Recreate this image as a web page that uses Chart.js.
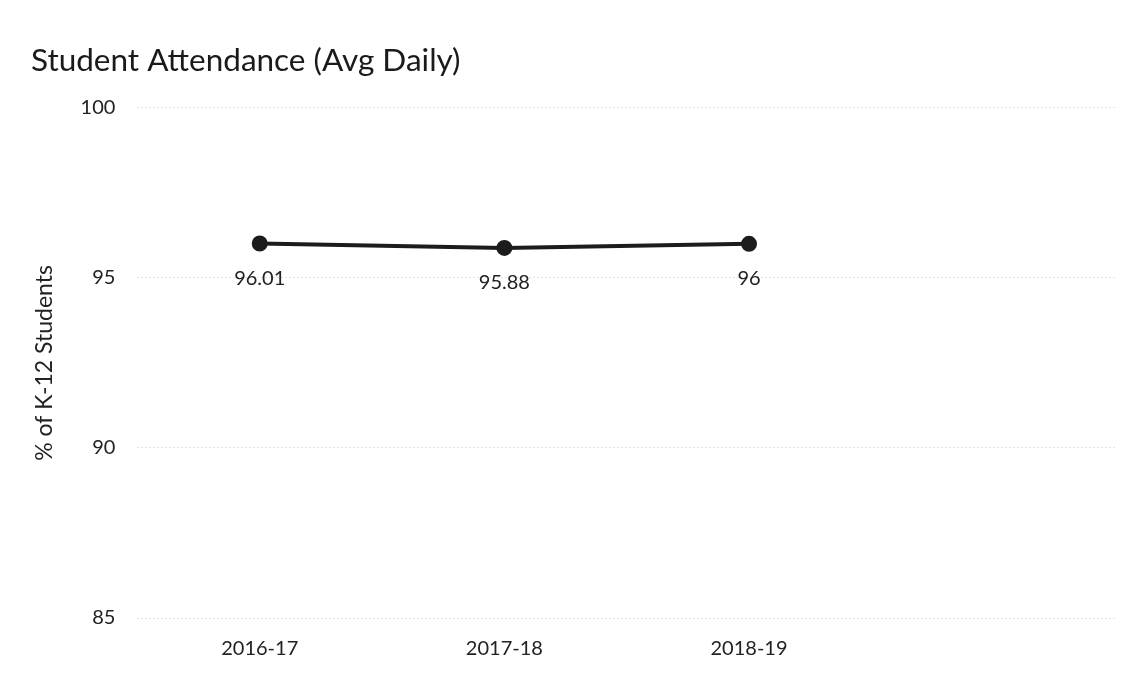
<!DOCTYPE html>
<html>
<head>
<meta charset="utf-8">
<script src="https://cdn.jsdelivr.net/npm/chart.js@4/dist/chart.umd.min.js"></script>
<style>
  html, body { margin: 0; padding: 0; background: #fff; }
  #wrap { width: 1126px; height: 675px; position: relative; }
</style>
</head>
<body>
<div id="wrap"><canvas id="grafica"></canvas></div>
<script>
const years = ["2016-17", "2017-18", "2018-19", ""];
const attendance = [96.01, 95.88, 96, null];
const yTicks = [85, 90, 95, 100];

const fontFam = "Lato, 'Open Sans', sans-serif";

// labels under each point
const etiquetas = {
  id: "etiquetas",
  afterDatasetsDraw(chart) {
    const ctx = chart.ctx;
    const meta = chart.getDatasetMeta(0);
    ctx.save();
    ctx.font = "20px " + fontFam;
    ctx.fillStyle = "#222";
    ctx.textAlign = "center";
    ctx.textBaseline = "middle";
    meta.data.forEach((pt, i) => {
      const v = attendance[i];
      if (v == null) return;
      ctx.fillText(String(v), pt.x, pt.y + 35);
    });
    ctx.restore();
  }
};

new Chart(document.getElementById("grafica"), {
  type: "line",
  data: {
    labels: years,
    datasets: [{
      data: attendance,
      borderColor: "#1c1c1c",
      backgroundColor: "#1c1c1c",
      borderWidth: 4,
      pointRadius: 6,
      pointHoverRadius: 6,
      tension: 0
    }]
  },
  options: {
    responsive: true,
    maintainAspectRatio: false,
    animation: false,
    layout: { padding: { left: 31, right: 4, top: 42, bottom: 3 } },
    plugins: {
      legend: { display: false },
      tooltip: { enabled: false },
      title: {
        display: true,
        text: "Student Attendance (Avg Daily)",
        align: "start",
        color: "#1a1a1a",
        font: { family: fontFam, size: 31.5, weight: "normal" },
        padding: { top: 0, bottom: 28 }
      }
    },
    scales: {
      x: {
        offset: true,
        grid: { display: false },
        border: { display: false },
        ticks: { color: "#222", font: { family: fontFam, size: 20 }, padding: 11 }
      },
      y: {
        min: 85,
        max: 100,
        afterBuildTicks: axis => { axis.ticks = yTicks.map(v => ({ value: v })); },
        grid: { color: "#e4e4e4", lineWidth: 1, drawTicks: false },
        border: { display: false, dash: [2, 2] },
        ticks: { color: "#222", font: { family: fontFam, size: 20 }, padding: 22 },
        title: {
          display: true,
          text: "% of K-12 Students",
          color: "#222",
          font: { family: fontFam, size: 23 },
          padding: { top: 0, bottom: 0 }
        }
      }
    }
  },
  plugins: [etiquetas]
});
</script>
</body>
</html>
